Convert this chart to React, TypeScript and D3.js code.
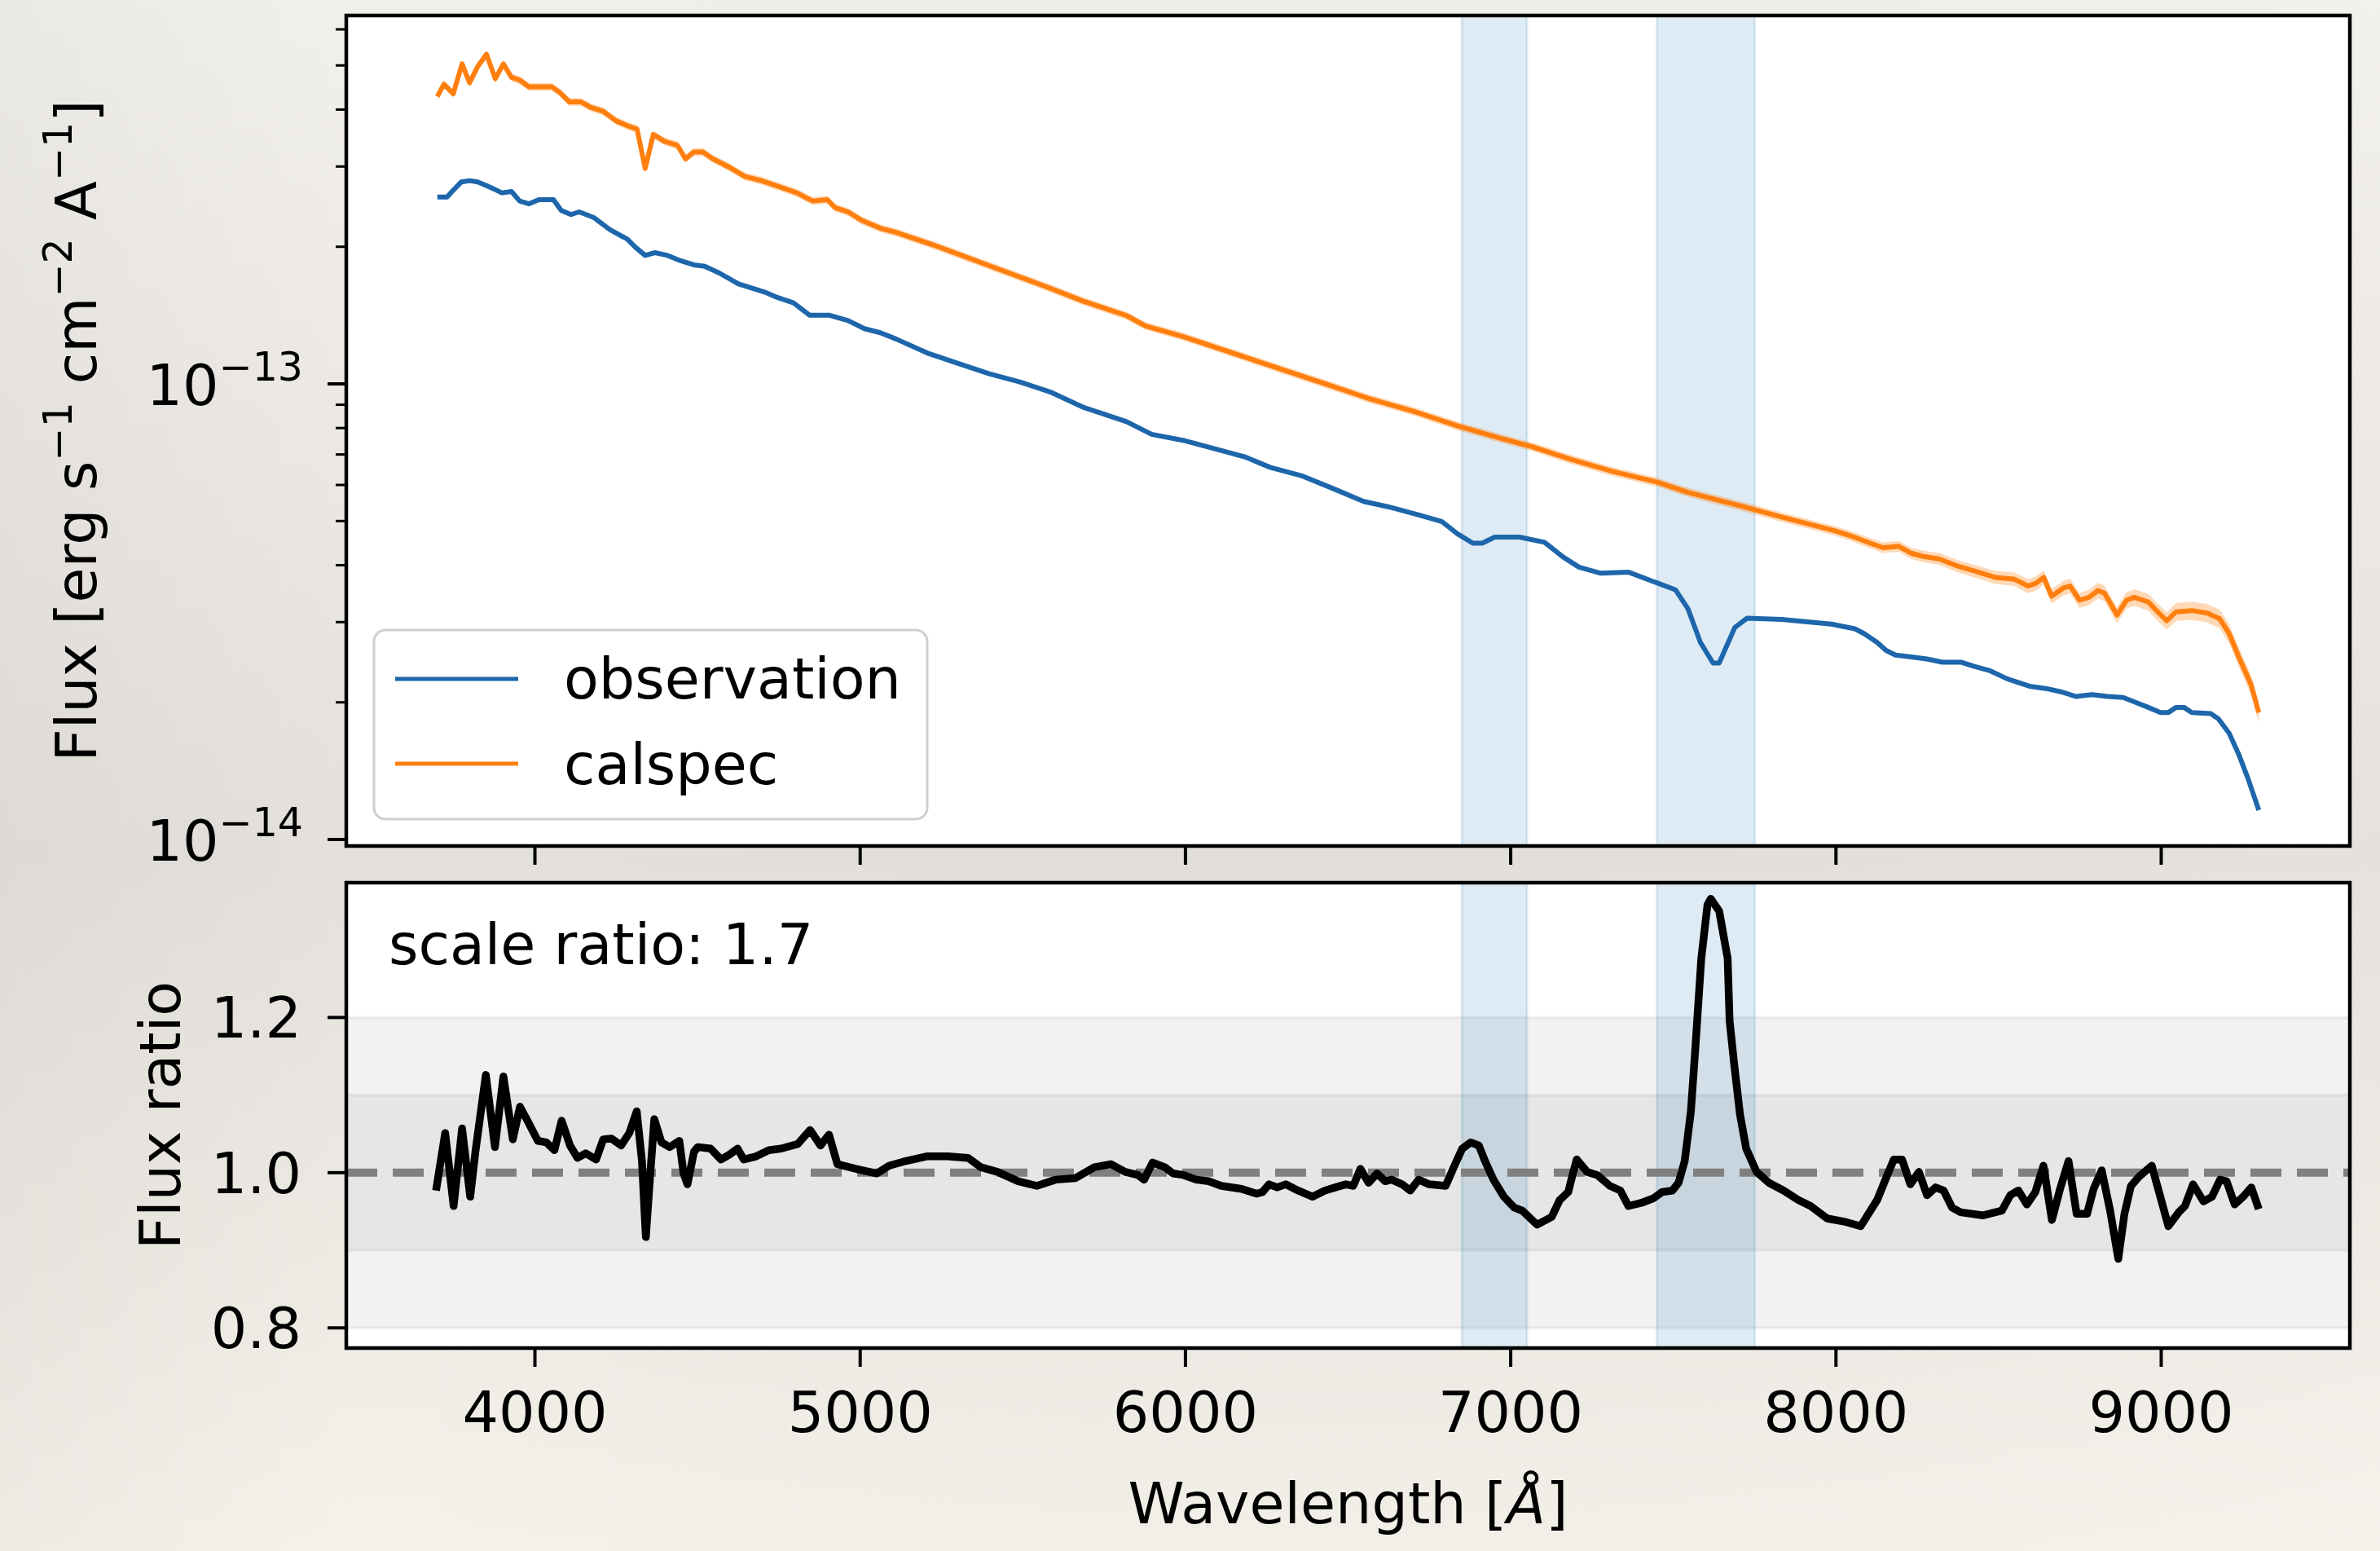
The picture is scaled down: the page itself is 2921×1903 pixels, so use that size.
import React from "react";
import * as d3 from "d3";

// ---------- data ----------
// observation flux, units of 1e-13 erg s^-1 cm^-2 A^-1
const obsWave = [3700,3730,3749,3774,3799,3824,3854,3873,3898,3928,3953,3982,4012,4057,4081,4111,4136,4180,4230,4284,4309,4339,4369,4408,4448,4488,4522,4567,4626,4706,4745,4795,4844,4904,4963,5013,5062,5110,5206,5301,5397,5493,5589,5685,5742,5819,5896,5992,6088,6184,6260,6356,6452,6548,6625,6720,6788,6836,6884,6912,6951,7027,7104,7161,7210,7277,7363,7440,7507,7545,7583,7622,7641,7689,7727,7833,7986,8058,8087,8126,8154,8183,8241,8279,8327,8384,8423,8471,8528,8595,8653,8691,8739,8787,8835,8883,8921,8960,8998,9022,9046,9070,9094,9152,9176,9209,9238,9267,9300];
const obsFlux = [2.572,2.572,2.662,2.775,2.793,2.775,2.718,2.680,2.626,2.644,2.520,2.485,2.537,2.537,2.402,2.353,2.385,2.320,2.181,2.078,1.995,1.914,1.941,1.914,1.863,1.825,1.812,1.751,1.657,1.591,1.548,1.506,1.415,1.415,1.377,1.322,1.295,1.255,1.169,1.109,1.052,1.009,0.957,0.889,0.862,0.826,0.775,0.752,0.721,0.691,0.656,0.629,0.590,0.552,0.537,0.515,0.499,0.469,0.447,0.447,0.461,0.461,0.449,0.417,0.396,0.384,0.386,0.368,0.353,0.321,0.271,0.244,0.244,0.292,0.306,0.304,0.297,0.290,0.283,0.271,0.260,0.254,0.251,0.249,0.245,0.245,0.240,0.235,0.225,0.217,0.214,0.211,0.206,0.208,0.206,0.205,0.200,0.195,0.190,0.190,0.195,0.195,0.190,0.189,0.184,0.171,0.154,0.136,0.116];

// calspec flux, units of 1e-13
const calWave = [3700,3720,3749,3776,3799,3824,3851,3878,3903,3928,3953,3982,4022,4052,4076,4106,4141,4171,4210,4250,4289,4314,4339,4364,4398,4438,4463,4488,4517,4547,4597,4646,4696,4745,4805,4854,4899,4923,4963,5003,5062,5110,5225,5397,5570,5685,5819,5877,5992,6145,6299,6452,6529,6567,6701,6835,6970,7066,7181,7315,7449,7545,7718,7833,7991,8049,8106,8145,8193,8231,8269,8317,8375,8432,8490,8547,8591,8615,8639,8663,8701,8720,8749,8778,8806,8826,8864,8893,8917,8960,8989,9017,9046,9094,9142,9180,9209,9238,9276,9300];
const calFlux = [4.275,4.548,4.334,5.040,4.579,4.972,5.290,4.675,5.040,4.707,4.643,4.486,4.486,4.486,4.363,4.159,4.159,4.046,3.964,3.777,3.675,3.625,2.971,3.527,3.408,3.339,3.118,3.227,3.227,3.118,2.991,2.851,2.793,2.718,2.626,2.520,2.537,2.435,2.385,2.288,2.196,2.150,2.018,1.817,1.636,1.520,1.412,1.340,1.271,1.169,1.074,0.988,0.947,0.927,0.871,0.809,0.759,0.728,0.684,0.642,0.609,0.578,0.537,0.510,0.477,0.463,0.447,0.437,0.440,0.425,0.418,0.413,0.398,0.387,0.376,0.373,0.360,0.365,0.376,0.342,0.357,0.360,0.335,0.340,0.352,0.347,0.311,0.335,0.340,0.332,0.316,0.302,0.316,0.318,0.314,0.305,0.283,0.252,0.219,0.190];
// calspec uncertainty (percent) at a few wavelengths
const calErrWave = [3700, 6000, 8000, 8600, 9300];
const calErrPct = [2.0, 2.0, 2.4, 3.5, 5.0];

// flux ratio
const ratioWave = [3696,3724,3750,3776,3801,3817,3849,3877,3903,3932,3954,3977,4009,4035,4060,4082,4108,4131,4156,4188,4210,4235,4265,4290,4313,4329,4341,4354,4367,4389,4414,4444,4457,4469,4489,4501,4540,4572,4597,4623,4642,4680,4719,4757,4808,4846,4878,4904,4930,4987,5051,5089,5140,5204,5268,5332,5371,5422,5486,5543,5601,5662,5720,5771,5815,5854,5873,5899,5937,5962,5994,6033,6071,6110,6173,6218,6237,6257,6282,6308,6346,6391,6429,6461,6493,6516,6538,6563,6589,6614,6634,6666,6691,6717,6749,6800,6825,6851,6877,6902,6921,6947,6979,7011,7036,7081,7126,7151,7177,7190,7203,7235,7266,7305,7337,7362,7401,7439,7465,7497,7516,7535,7554,7567,7586,7605,7615,7641,7667,7673,7686,7705,7724,7756,7794,7839,7884,7922,7973,8025,8076,8127,8152,8178,8203,8229,8255,8280,8306,8331,8357,8383,8453,8510,8536,8561,8587,8613,8638,8664,8689,8715,8740,8772,8792,8817,8843,8868,8887,8907,8932,8971,8996,9022,9054,9073,9098,9130,9156,9181,9201,9226,9252,9277,9300];
const ratioVal = [0.977,1.051,0.957,1.057,0.969,1.027,1.126,1.033,1.124,1.043,1.085,1.067,1.041,1.039,1.029,1.067,1.035,1.019,1.025,1.017,1.043,1.044,1.035,1.051,1.079,1.015,0.917,0.995,1.069,1.039,1.033,1.041,0.999,0.985,1.027,1.033,1.031,1.017,1.023,1.031,1.017,1.021,1.029,1.031,1.037,1.055,1.035,1.049,1.011,1.005,0.999,1.009,1.015,1.021,1.021,1.019,1.007,1.001,0.989,0.983,0.991,0.993,1.007,1.011,1.001,0.997,0.991,1.013,1.007,0.999,0.997,0.991,0.989,0.983,0.979,0.973,0.975,0.985,0.981,0.985,0.977,0.969,0.977,0.981,0.985,0.983,1.005,0.987,0.999,0.989,0.991,0.985,0.977,0.991,0.985,0.983,1.007,1.031,1.039,1.035,1.015,0.991,0.969,0.955,0.951,0.933,0.943,0.965,0.975,0.997,1.017,1.001,0.997,0.983,0.977,0.957,0.961,0.967,0.975,0.977,0.987,1.015,1.079,1.156,1.276,1.345,1.353,1.337,1.276,1.196,1.144,1.075,1.031,1.001,0.987,0.977,0.965,0.957,0.941,0.937,0.931,0.965,0.991,1.017,1.017,0.985,1.001,0.971,0.981,0.977,0.955,0.949,0.945,0.951,0.971,0.977,0.959,0.975,1.009,0.939,0.979,1.015,0.947,0.947,0.979,1.003,0.951,0.889,0.947,0.983,0.995,1.009,0.971,0.931,0.949,0.957,0.985,0.963,0.969,0.991,0.989,0.959,0.969,0.981,0.953];

const xTicks = [4000, 5000, 6000, 7000, 8000, 9000];
const ratioTicks = [0.8, 1.0, 1.2];
const fluxMajorTicks = [1, 0.1];
const fluxMajorExp = ["\u221213", "\u221214"];
const fluxMinorTicks = [0.2, 0.3, 0.4, 0.5, 0.6, 0.7, 0.8, 0.9, 2, 3, 4, 5, 6];
const telluricBands = [[6850, 7050], [7450, 7750]];
const ratioBands = [[0.8, 1.2], [0.9, 1.1]];
const legendLabels = ["observation", "calspec"];
const scaleRatioText = "scale ratio: 1.7";

// ---------- layout ----------
const W = 2921, H = 1903;
const L = 425, R = 2884;
const T0 = 19, T1 = 1038;
const B0 = 1083, B1 = 1654;
const FS = 70;
const FONT = "DejaVu Sans";
const BLUE = "#1d66ab";
const ORANGE = "#ff7f0e";

export default function App() {
  const x = d3.scaleLinear().domain([3420, 9580]).range([L, R]);
  const yTop = d3.scaleLog().domain([Math.pow(10, -1.0143), Math.pow(10, 0.8086)]).range([T1, T0]);
  const yBot = d3.scaleLinear().domain([0.774, 1.3737]).range([B1, B0]);
  const errScale = d3.scaleLinear().domain(calErrWave).range(calErrPct);

  const obsPts = obsWave.map((w, i) => [w, obsFlux[i]] as [number, number]);
  const calPts = calWave.map((w, i) => [w, calFlux[i]] as [number, number]);
  const ratioPts = ratioWave.map((w, i) => [w, ratioVal[i]] as [number, number]);

  const lineTop = d3.line<[number, number]>().x(d => x(d[0])).y(d => yTop(d[1]));
  const lineBot = d3.line<[number, number]>().x(d => x(d[0])).y(d => yBot(d[1]));
  const calArea = d3.area<[number, number]>()
    .x(d => x(d[0]))
    .y0(d => yTop(d[1] * (1 - errScale(d[0]) / 100)))
    .y1(d => yTop(d[1] * (1 + errScale(d[0]) / 100)));

  const spineW = 4.5;
  const tickW = 4;
  const majLen = 23, minLen = 13;
  const sup = FS * 0.7;

  return (
    <div>
      <style>{`body{margin:0;}`}</style>
      <svg width={W} height={H} xmlns="http://www.w3.org/2000/svg" style={{ display: "block" }} fontFamily={FONT}>
        <defs>
          <linearGradient id="bgv" x1="0" y1="0" x2="0" y2="1">
            <stop offset="0" stopColor="#f2f0eb" />
            <stop offset="0.3" stopColor="#ebe8e3" />
            <stop offset="0.55" stopColor="#e4e1dc" />
            <stop offset="0.78" stopColor="#ece9e3" />
            <stop offset="1" stopColor="#f5f2eb" />
          </linearGradient>
          <linearGradient id="bgh" x1="0" y1="0" x2="1" y2="0">
            <stop offset="0" stopColor="#000" stopOpacity="0.03" />
            <stop offset="0.15" stopColor="#000" stopOpacity="0" />
            <stop offset="1" stopColor="#fff" stopOpacity="0.05" />
          </linearGradient>
        </defs>
        <rect x={0} y={0} width={W} height={H} fill="url(#bgv)" />
        <rect x={0} y={0} width={W} height={H} fill="url(#bgh)" />

        {/* ---------- top panel ---------- */}
        <rect x={L} y={T0} width={R - L} height={T1 - T0} fill="#ffffff" />
        {telluricBands.map((b, i) => (
          <rect key={"tb" + i} x={x(b[0])} y={T0} width={x(b[1]) - x(b[0])} height={T1 - T0}
            fill="rgba(31,119,180,0.15)" stroke="rgba(31,119,180,0.15)" strokeWidth={3} />
        ))}
        <path d={calArea(calPts) || ""} fill={ORANGE} fillOpacity={0.3} stroke="none" />
        <path d={lineTop(obsPts) || ""} fill="none" stroke={BLUE} strokeWidth={6} strokeLinejoin="round" />
        <path d={lineTop(calPts) || ""} fill="none" stroke={ORANGE} strokeWidth={6} strokeLinejoin="round" />

        {/* legend */}
        <rect x={459} y={773} width={679} height={232} rx={14} ry={14} fill="#ffffff" fillOpacity={0.8} stroke="#cfcfcf" strokeWidth={3} />
        <line x1={485} x2={636} y1={833} y2={833} stroke={BLUE} strokeWidth={5} />
        <line x1={485} x2={636} y1={937} y2={937} stroke={ORANGE} strokeWidth={5} />
        <text x={692} y={857} fontSize={FS} fill="#000">{legendLabels[0]}</text>
        <text x={692} y={962} fontSize={FS} fill="#000">{legendLabels[1]}</text>

        <rect x={L} y={T0} width={R - L} height={T1 - T0} fill="none" stroke="#000" strokeWidth={spineW} />
        {/* top y ticks */}
        {fluxMajorTicks.map((v, i) => (
          <g key={"fm" + i}>
            <line x1={L - majLen} x2={L} y1={yTop(v)} y2={yTop(v)} stroke="#000" strokeWidth={tickW} />
            <text x={372} y={yTop(v) + 26} fontSize={FS} textAnchor="end" fill="#000">
              10<tspan fontSize={sup} dy={-30}>{fluxMajorExp[i]}</tspan>
            </text>
          </g>
        ))}
        {fluxMinorTicks.map((v, i) => (
          <line key={"fn" + i} x1={L - minLen} x2={L} y1={yTop(v)} y2={yTop(v)} stroke="#000" strokeWidth={3} />
        ))}
        {xTicks.map((t, i) => (
          <line key={"tx" + i} x1={x(t)} x2={x(t)} y1={T1} y2={T1 + majLen} stroke="#000" strokeWidth={tickW} />
        ))}
        <text transform={`translate(118, ${(T0 + T1) / 2}) rotate(-90)`} textAnchor="middle" fontSize={FS} fill="#000">
          Flux [erg s<tspan fontSize={sup} dy={-30}>{"\u22121"}</tspan><tspan dy={30}> cm</tspan><tspan fontSize={sup} dy={-30}>{"\u22122"}</tspan><tspan dy={30}> A</tspan><tspan fontSize={sup} dy={-30}>{"\u22121"}</tspan><tspan dy={30}>]</tspan>
        </text>

        {/* ---------- bottom panel ---------- */}
        <rect x={L} y={B0} width={R - L} height={B1 - B0} fill="#ffffff" />
        {ratioBands.map((b, i) => (
          <rect key={"rb" + i} x={L} y={yBot(b[1])} width={R - L} height={yBot(b[0]) - yBot(b[1])}
            fill="rgba(128,128,128,0.1)" stroke="rgba(128,128,128,0.1)" strokeWidth={4} />
        ))}
        {telluricBands.map((b, i) => (
          <rect key={"bb" + i} x={x(b[0])} y={B0} width={x(b[1]) - x(b[0])} height={B1 - B0}
            fill="rgba(31,119,180,0.15)" stroke="rgba(31,119,180,0.15)" strokeWidth={3} />
        ))}
        <line x1={L} x2={R} y1={yBot(1)} y2={yBot(1)} stroke="#808080" strokeWidth={10} strokeDasharray="38 19" />
        <path d={lineBot(ratioPts) || ""} fill="none" stroke="#000" strokeWidth={9.5} strokeLinejoin="round" />
        <text x={477} y={1183} fontSize={FS} fill="#000">{scaleRatioText}</text>

        <rect x={L} y={B0} width={R - L} height={B1 - B0} fill="none" stroke="#000" strokeWidth={spineW} />
        {ratioTicks.map((v, i) => (
          <g key={"ry" + i}>
            <line x1={L - majLen} x2={L} y1={yBot(v)} y2={yBot(v)} stroke="#000" strokeWidth={tickW} />
            <text x={370} y={yBot(v) + 25} fontSize={FS} textAnchor="end" fill="#000">{v.toFixed(1)}</text>
          </g>
        ))}
        {xTicks.map((t, i) => (
          <g key={"bx" + i}>
            <line x1={x(t)} x2={x(t)} y1={B1} y2={B1 + majLen} stroke="#000" strokeWidth={tickW} />
            <text x={x(t)} y={1757} fontSize={FS} textAnchor="middle" fill="#000">{t}</text>
          </g>
        ))}
        <text transform={`translate(221, ${(B0 + B1) / 2}) rotate(-90)`} textAnchor="middle" fontSize={FS} fill="#000">Flux ratio</text>
        <text x={(L + R) / 2} y={1869} fontSize={FS} textAnchor="middle" fill="#000">
          Wavelength [<tspan fontStyle="italic">Å</tspan>]
        </text>
      </svg>
    </div>
  );
}
